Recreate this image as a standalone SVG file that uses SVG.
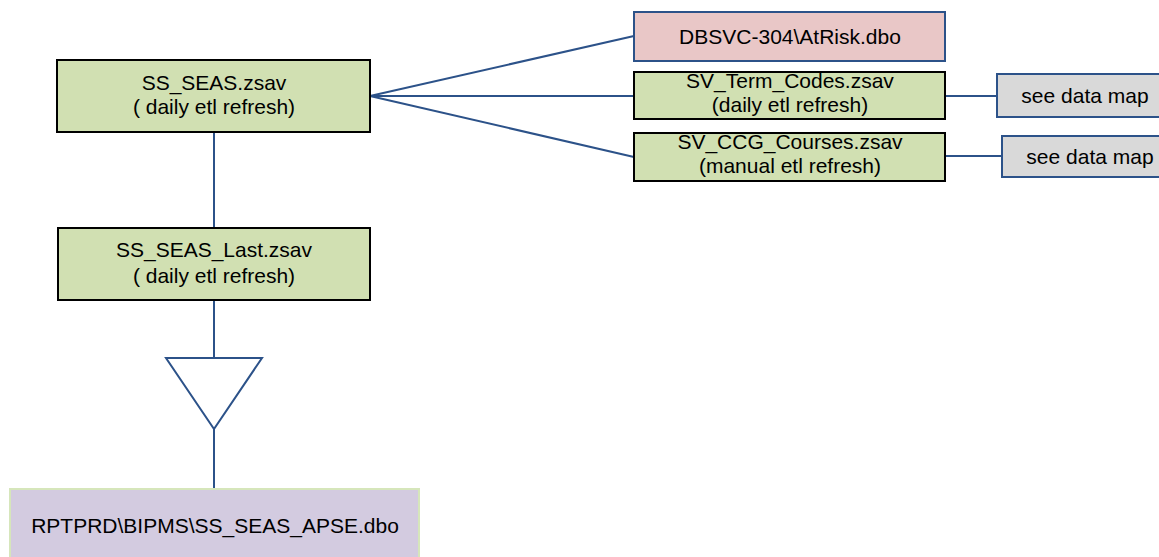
<svg xmlns="http://www.w3.org/2000/svg" width="1159" height="557" viewBox="0 0 1159 557">
<style>
.t{font-family:"Liberation Sans",Arial,sans-serif;font-size:21px;fill:#000;text-anchor:middle}
.g{fill:#d1e0b2;stroke:#000;stroke-width:2}
.p{fill:#e9c7c7;stroke:#2c5289;stroke-width:2}
.s{fill:#d9d9d9;stroke:#2c5289;stroke-width:2}
.v{fill:#d3cbe0;stroke:#d6e6bb;stroke-width:2}
.c{stroke:#2c5289;stroke-width:2;fill:none}
</style>
<rect width="1159" height="557" fill="#fff"/>
<g id="connectors">
<line class="c" x1="214" y1="132" x2="214" y2="228"/>
<line class="c" x1="214" y1="300" x2="214" y2="358"/>
<line class="c" x1="214" y1="429" x2="214" y2="489"/>
<line class="c" x1="370" y1="96" x2="634" y2="36"/>
<line class="c" x1="370" y1="96" x2="634" y2="96"/>
<line class="c" x1="370" y1="96" x2="634" y2="157"/>
<line class="c" x1="945" y1="96" x2="997" y2="96"/>
<line class="c" x1="945" y1="156" x2="1002" y2="156"/>
</g>
<g id="ss_seas">
<rect class="g" x="57" y="60" width="313" height="72"/>
<text class="t" x="214" y="90">SS_SEAS.zsav</text>
<text class="t" x="214" y="114">( daily etl refresh)</text>
</g>
<g id="ss_seas_last">
<rect class="g" x="58" y="228" width="312" height="72"/>
<text class="t" x="214" y="257">SS_SEAS_Last.zsav</text>
<text class="t" x="214" y="283">( daily etl refresh)</text>
</g>
<g id="merge">
<polygon points="166,358 262,358 214,429" fill="#fff" stroke="#2c5289" stroke-width="2"/>
</g>
<g id="rptprd">
<rect class="v" x="10" y="489" width="409" height="72"/>
<text class="t" x="215" y="533">RPTPRD\BIPMS\SS_SEAS_APSE.dbo</text>
</g>
<g id="dbsvc">
<rect class="p" x="634" y="12" width="311" height="49"/>
<text class="t" x="790" y="44">DBSVC-304\AtRisk.dbo</text>
</g>
<g id="sv_term">
<rect class="g" x="634" y="72" width="311" height="47"/>
<text class="t" x="790" y="88">SV_Term_Codes.zsav</text>
<text class="t" x="790" y="112">(daily etl refresh)</text>
</g>
<g id="sv_ccg">
<rect class="g" x="634" y="133" width="311" height="48"/>
<text class="t" x="790" y="149">SV_CCG_Courses.zsav</text>
<text class="t" x="790" y="173">(manual etl refresh)</text>
</g>
<g id="map1">
<rect class="s" x="997" y="74" width="170" height="43"/>
<text class="t" x="1085" y="103">see data map</text>
</g>
<g id="map2">
<rect class="s" x="1002" y="136" width="170" height="41"/>
<text class="t" x="1090" y="164">see data map</text>
</g>
</svg>
